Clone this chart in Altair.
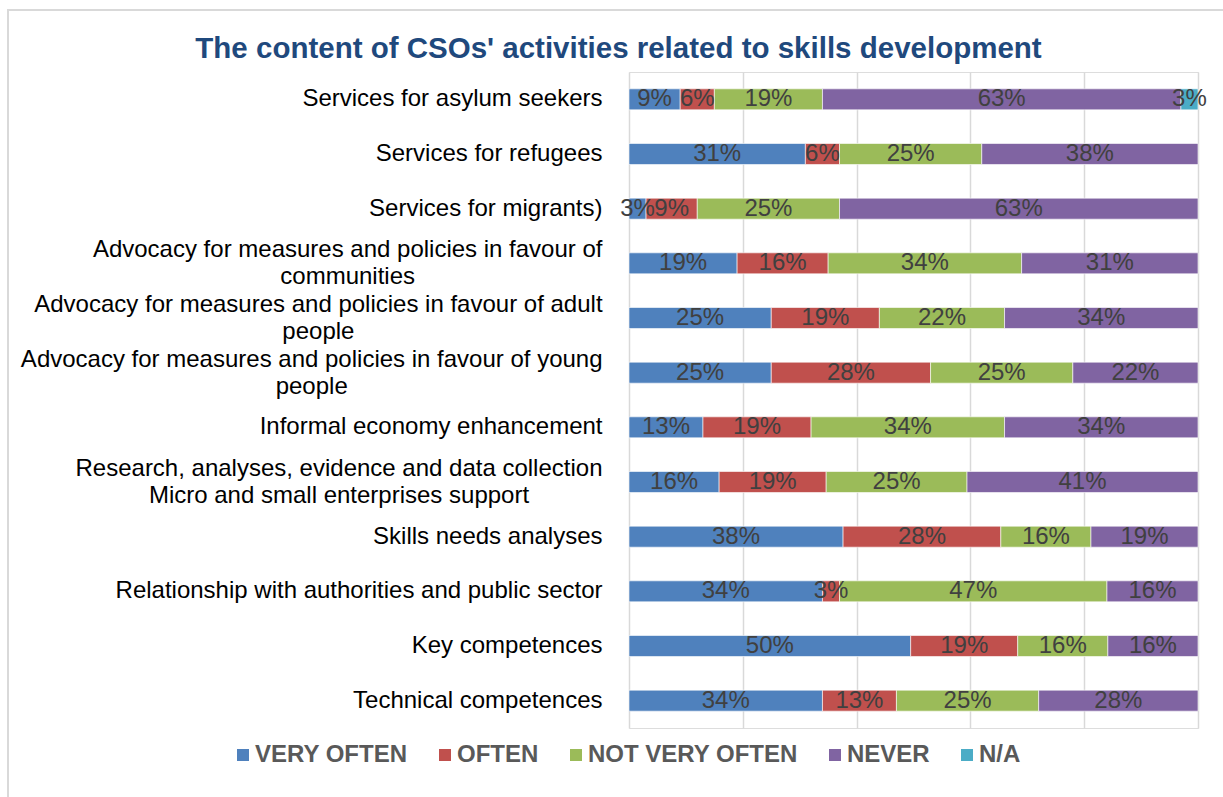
import altair as alt
import pandas as pd

categories = [
    "Services for asylum seekers",
    "Services for refugees",
    "Services for migrants)",
    "Advocacy for measures and policies in favour of\ncommunities",
    "Advocacy for measures and policies in favour of adult\npeople",
    "Advocacy for measures and policies in favour of young\npeople",
    "Informal economy enhancement",
    "Research, analyses, evidence and data collection\nMicro and small enterprises support",
    "Skills needs analyses",
    "Relationship with authorities and public sector",
    "Key competences",
    "Technical competences",
]
series = ["VERY OFTEN", "OFTEN", "NOT VERY OFTEN", "NEVER", "N/A"]
colors = ["#4F81BD", "#C0504D", "#9BBB59", "#8064A2", "#4BACC6"]

very_often = [9, 31, 3, 19, 25, 25, 13, 16, 38, 34, 50, 34]
often = [6, 6, 9, 16, 19, 28, 19, 19, 28, 3, 19, 13]
not_very_often = [19, 25, 25, 34, 22, 25, 34, 25, 16, 47, 16, 25]
never = [63, 38, 63, 31, 34, 22, 34, 41, 19, 16, 16, 28]
na = [3, 0, 0, 0, 0, 0, 0, 0, 0, 0, 0, 0]

rows = []
for s_i, (name, vals) in enumerate(zip(series, [very_often, often, not_very_often, never, na])):
    for c, v in zip(categories, vals):
        if v > 0:
            rows.append({"category": c, "series": name, "order": s_i, "value": v, "label": f"{v}%"})
df = pd.DataFrame(rows)

FONT = "Liberation Sans"
LABEL_SIZE = 24
LABEL_PAD = 27

# Arial / Liberation Sans advance widths (per 1000 em) to centre wrapped label lines
_W = dict(zip("abcdefghijklmnopqrstuvwxyz",
              [556, 556, 500, 556, 556, 278, 556, 556, 222, 222, 500, 222, 833,
               556, 556, 556, 556, 333, 500, 278, 556, 500, 722, 500, 500, 500]))
_W.update({" ": 278, ",": 278, ".": 278, ")": 333, "A": 667, "M": 833, "R": 722,
           "S": 667, "I": 278, "K": 667, "T": 611})


def text_width(s):
    return sum(_W.get(ch, 556) for ch in s) * LABEL_SIZE / 1000.0


def js_str(s):
    return "'" + s.replace("\\", "\\\\").replace("'", "\\'").replace("\n", "\\n") + "'"


pad_expr = str(LABEL_PAD)
for c in categories:
    if "\n" in c:
        w = max(text_width(line) for line in c.split("\n"))
        pad_expr = f"datum.value == {js_str(c)} ? {LABEL_PAD + w / 2:.1f} : ({pad_expr})"
align_expr = "indexof(datum.value, '\\n') >= 0 ? 'center' : 'right'"

base = alt.Chart(df).transform_stack(
    stack="value", groupby=["category"], as_=["x0", "x1"],
    offset="normalize", sort=[alt.SortField("order")]
).transform_calculate(mid="(datum.x0 + datum.x1) / 2")

y_enc = alt.Y(
    "category:N", sort=categories, title=None,
    scale=alt.Scale(paddingInner=0.616, paddingOuter=0.308),
    axis=alt.Axis(
        domain=False, ticks=False, labelFontSize=LABEL_SIZE,
        labelFont=FONT, labelColor="#000000", labelLimit=1000,
        labelExpr="split(datum.label, '\\n')", labelLineHeight=27,
        labelOffset=alt.ExprRef("indexof(datum.value, '\\n') >= 0 ? -13 : 0"),
        labelPadding=alt.ExprRef(pad_expr),
        labelAlign=alt.ExprRef(align_expr),
    ),
)

bars = base.mark_bar(stroke="white", strokeWidth=0.6).encode(
    x=alt.X("x0:Q", scale=alt.Scale(domain=[0, 1], nice=False), title=None,
            axis=alt.Axis(values=[0, 0.2, 0.4, 0.6, 0.8, 1.0], grid=True,
                          gridColor="#D9D9D9", gridWidth=1.5, labels=False,
                          ticks=False, domain=False)),
    x2="x1:Q",
    y=y_enc,
    color=alt.Color(
        "series:N",
        scale=alt.Scale(domain=series, range=colors),
        legend=alt.Legend(
            title=None, orient="none", legendX=-398, legendY=671,
            direction="horizontal", columns=5, symbolType="square",
            symbolSize=144, symbolStrokeWidth=0, labelFont=FONT,
            labelFontSize=24, labelFontWeight="bold", labelColor="#595959",
            labelOffset=0, columnPadding=25, padding=0, labelLimit=500,
        ),
    ),
)

texts = base.mark_text(font=FONT, fontSize=24, color="#404040", baseline="middle").encode(
    x=alt.X("mid:Q"),
    y=alt.Y("category:N", sort=categories),
    text="label:N",
)

frame = alt.Chart(alt.Data(values=[{}])).mark_rect(
    fillOpacity=0, stroke="#D9D9D9", strokeWidth=2
).encode(
    x=alt.value(-621), x2=alt.value(620), y=alt.value(-62), y2=alt.value(760)
)

chart = alt.layer(frame, bars, texts).properties(
    width=569, height=656,
    title=alt.TitleParams(
        "The content of CSOs' activities related to skills development",
        font=FONT, fontSize=29.5, fontWeight="bold", color="#1F497D",
        anchor="middle", frame="group", dx=-295, baseline="alphabetic", offset=-78,
    ),
    autosize=alt.AutoSizeParams(type="none"),
    padding={"left": 629, "top": 72, "right": 25, "bottom": 69},
).configure_view(stroke=None).configure(font=FONT)

chart.save("out.html", embed_options={"renderer": "svg", "actions": False})
